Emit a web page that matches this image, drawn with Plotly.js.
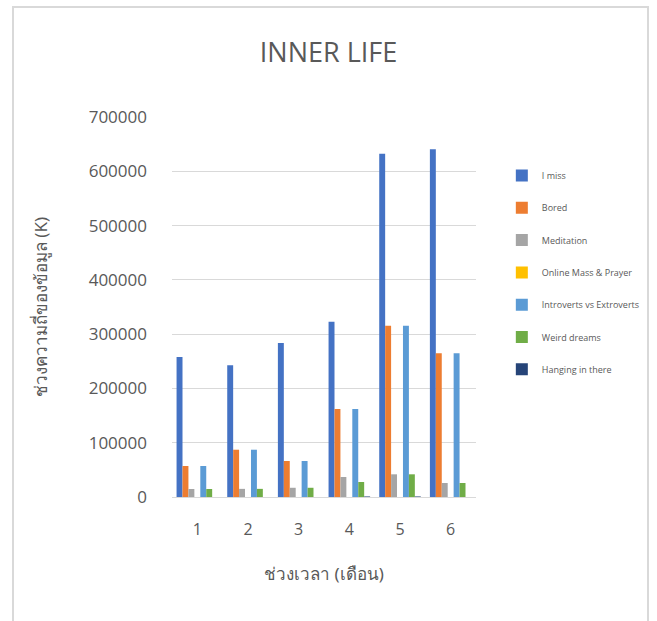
<!DOCTYPE html>
<html>
<head>
<meta charset="utf-8">
<script src="https://cdn.plot.ly/plotly-3.0.1.min.js"></script>
<style>
html,body{margin:0;padding:0;background:#fff;}
#frame{position:absolute;left:12px;top:6px;width:637px;height:640px;border:2px solid #d9d9d9;border-bottom:none;box-sizing:border-box;}
#chart{position:absolute;left:0;top:0;width:657px;height:621px;}
</style>
</head>
<body>
<div id="frame"></div>
<div id="chart"></div>
<script>
const months = ['1', '2', '3', '4', '5', '6'];
const seriesNames = ['I miss', 'Bored', 'Meditation', 'Online Mass & Prayer', 'Introverts vs Extroverts', 'Weird dreams', 'Hanging in there'];
const iMiss = [258000, 242600, 283700, 323000, 632400, 640500];
const bored = [57100, 87100, 66300, 162100, 315600, 264700];
const meditation = [14700, 15000, 17000, 36800, 41800, 25800];
const onlineMass = [0, 0, 0, 0, 0, 0];
const introverts = [57100, 87100, 66300, 162100, 315600, 264700];
const weirdDreams = [14700, 15000, 17000, 27600, 41800, 25800];
const hanging = [0, 0, 0, 1000, 1000, 0];
const yTicks = [0, 100000, 200000, 300000, 400000, 500000, 600000, 700000];

const seriesValues = [iMiss, bored, meditation, onlineMass, introverts, weirdDreams, hanging];
const colors = ['#4472C4', '#ED7D31', '#A5A5A5', '#FFC000', '#5B9BD5', '#70AD47', '#264478'];

const traces = seriesValues.map((vals, i) => ({
  type: 'bar',
  name: seriesNames[i],
  x: months,
  y: vals,
  legendgroup: 'g' + i,
  marker: {color: colors[i], line: {width: 0}}
}));

const grey = '#595959';
const layout = {
  width: 657, height: 621,
  paper_bgcolor: 'rgba(0,0,0,0)',
  plot_bgcolor: 'rgba(0,0,0,0)',
  margin: {l: 172, r: 179, t: 117, b: 124},
  barmode: 'group',
  bargap: 0.18,
  bargroupgap: 0,
  font: {family: 'Open Sans, Noto Sans, sans-serif', color: grey},
  title: {
    text: 'INNER LIFE',
    font: {size: 27, color: grey, family: 'Open Sans, sans-serif'},
    x: 0.5, xanchor: 'center', y: 1 - 53/621, yanchor: 'middle', yref: 'container'
  },
  xaxis: {
    type: 'category',
    showgrid: false,
    showline: true, linecolor: '#d9d9d9', linewidth: 1,
    ticks: '',
    ticklabelstandoff: 18,
    tickfont: {size: 16, color: grey},
    title: {text: 'ช่วงเวลา (เดือน)', font: {size: 17, color: grey, family: 'Noto Sans, Open Sans, sans-serif'}, standoff: 28}
  },
  yaxis: {
    range: [0, 700000],
    tickvals: yTicks,
    ticktext: yTicks.map(String),
    showgrid: true, gridcolor: '#d9d9d9', gridwidth: 1,
    zeroline: false,
    showline: false,
    ticks: '',
    ticklabelstandoff: 24,
    tickfont: {size: 17, color: grey},
    title: {text: 'ช่วงความถี่ของข้อมูล (K)', font: {size: 17, color: grey, family: 'Noto Sans, Open Sans, sans-serif'}, standoff: 36}
  },
  legend: {
    x: (504 - 172) / 306, xanchor: 'left',
    y: 1 - (161 - 117) / 380, yanchor: 'top',
    font: {size: 9, color: grey},
    tracegroupgap: 13.3,
    bgcolor: 'rgba(0,0,0,0)'
  },
  showlegend: true
};

Plotly.newPlot('chart', traces, layout, {staticPlot: true, displayModeBar: false});
</script>
</body>
</html>
